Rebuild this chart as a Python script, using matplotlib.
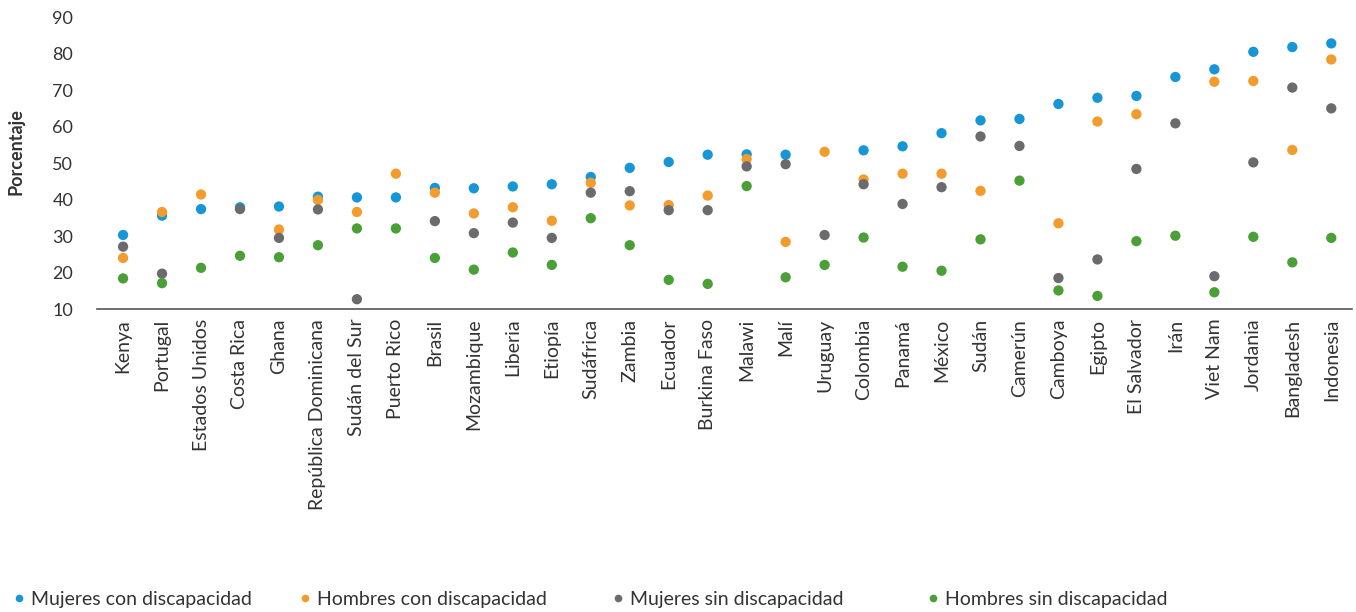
import numpy as np
import matplotlib
matplotlib.use("Agg")
import matplotlib.pyplot as plt
from matplotlib.lines import Line2D

paises = ["Kenya", "Portugal", "Estados Unidos", "Costa Rica", "Ghana",
          "República Dominicana", "Sudán del Sur", "Puerto Rico", "Brasil",
          "Mozambique", "Liberia", "Etiopía", "Sudáfrica", "Zambia", "Ecuador",
          "Burkina Faso", "Malawi", "Malí", "Uruguay", "Colombia", "Panamá",
          "México", "Sudán", "Camerún", "Camboya", "Egipto", "El Salvador",
          "Irán", "Viet Nam", "Jordania", "Bangladesh", "Indonesia"]

nan = np.nan
mujeres_con = [30.3, 35.6, 37.4, 37.9, 38.1, 40.8, 40.6, 40.6, 43.2,
               43.1, 43.6, 44.2, 46.2, 48.7, 50.3, 52.3, 52.4, 52.3, nan, 53.5,
               54.6, 58.2, 61.7, 62.1, 66.2, 67.9, 68.4, 73.6, 75.7, 80.5, 81.8, 82.8]
hombres_con = [24.0, 36.6, 41.4, nan, 31.8, 39.9, 36.6, 47.1, 41.9,
               36.2, 37.9, 34.2, 44.6, 38.4, 38.5, 41.1, 51.1, 28.4, 53.1, 45.5,
               47.1, 47.1, 42.4, nan, 33.5, 61.4, 63.4, nan, 72.3, 72.5, 53.6, 78.4]
mujeres_sin = [27.1, 19.7, nan, 37.4, 29.5, 37.3, 12.7, nan, 34.1,
               30.8, 33.7, 29.5, 41.9, 42.3, 37.1, 37.1, 49.1, 49.7, 30.3, 44.2,
               38.8, 43.4, 57.3, 54.7, 18.5, 23.6, 48.4, 60.9, 19.0, 50.2, 70.7, 65.0]
hombres_sin = [18.4, 17.1, 21.3, 24.6, 24.2, 27.5, 32.1, 32.1, 24.0,
               20.8, 25.5, 22.1, 34.9, 27.5, 18.0, 16.9, 43.7, 18.7, 22.1, 29.6,
               21.6, 20.5, 29.1, 45.2, 15.1, 13.6, 28.6, 30.1, 14.6, 29.8, 22.8, 29.5]

series = [
    ("Mujeres con discapacidad", mujeres_con, "#1696d5"),
    ("Hombres con discapacidad", hombres_con, "#f39c2e"),
    ("Mujeres sin discapacidad", mujeres_sin, "#6b6b6d"),
    ("Hombres sin discapacidad", hombres_sin, "#4b9f37"),
]

plt.rcParams['font.family'] = ['Lato', 'DejaVu Sans']
txt = "#333333"

fig = plt.figure(figsize=(13.56, 6.12), dpi=100)
ax = fig.add_axes([0.0715, 0.495, 0.9255, 0.477])

x = np.arange(len(paises))
for nombre, vals, col in series:
    ax.scatter(x, vals, s=55, color=col, edgecolors="none", zorder=3, label=nombre)

ax.set_ylim(10, 90)
ax.set_yticks(range(10, 91, 10))
ax.set_xlim(-0.67, len(paises) - 1 + 0.53)
ax.set_xticks(x)
ax.set_xticklabels(paises, rotation=90, fontsize=14, color=txt)
ax.tick_params(axis="y", length=0, labelsize=13, labelcolor=txt, pad=17)
ax.tick_params(axis="x", length=0, pad=7)
for s in ["top", "right", "left"]:
    ax.spines[s].set_visible(False)
ax.spines["bottom"].set_color("#555555")
ax.spines["bottom"].set_linewidth(1.2)
ax.set_ylabel("Porcentaje", fontsize=13, fontweight="bold", color=txt)
ax.yaxis.set_label_coords(-0.058, 0.54)

# leyenda abajo
xs = [-0.006, 0.205, 0.436, 0.668]
for (nombre, vals, col), xp in zip(series, xs):
    h = Line2D([], [], marker="o", linestyle="none", markersize=5.5,
               markerfacecolor=col, markeredgecolor="none")
    fig.legend([h], [nombre], loc="center left", bbox_to_anchor=(xp, 0.02),
               frameon=False, fontsize=14, handletextpad=0.1,
               handlelength=1.0, labelcolor=txt)

fig.savefig("out.png", dpi=100)
